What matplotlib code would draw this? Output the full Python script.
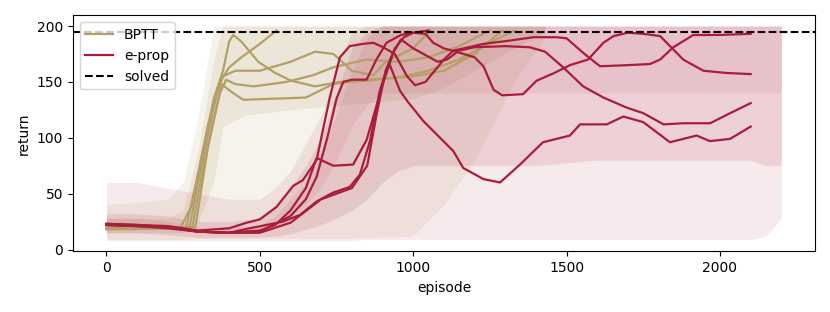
import matplotlib
matplotlib.use("Agg")
import matplotlib.pyplot as plt

bptt_color = '#b59f68'
eprop_color = '#a91d3a'
solved = 195

# faint raw returns, drawn as envelopes (outer = min/max, inner = dense part)
bptt_band_ep = [0, 200, 250, 300, 350, 380, 450, 600, 800, 1000, 1100, 1200, 1330, 1430]
bptt_outer_lo = [9, 9, 9, 10, 10, 10, 10, 10, 10, 12, 40, 80, 150, 190]
bptt_outer_hi = [40, 45, 60, 120, 200, 200, 200, 200, 200, 200, 200, 200, 200, 200]
bptt_inner_lo = [15, 15, 15, 25, 60, 110, 120, 125, 130, 135, 145, 160, 180, 195]
bptt_inner_hi = [28, 28, 35, 90, 170, 200, 200, 200, 200, 200, 200, 200, 200, 200]

eprop_band_ep = [0, 100, 200, 300, 400, 500, 550, 600, 650, 700, 750, 800, 850, 900,
                 950, 1000, 1200, 1400, 1600, 1800, 2000, 2100, 2150, 2200]
eprop_outer_lo = [8, 8, 8, 8, 8, 8, 8, 8, 8, 8, 8, 8, 9, 9,
                  9, 9, 9, 9, 9, 9, 9, 9, 12, 28]
eprop_outer_hi = [60, 60, 55, 50, 45, 45, 55, 70, 95, 120, 160, 195, 200, 200,
                  200, 200, 200, 200, 200, 200, 200, 200, 200, 200]
eprop_inner_lo = [15, 15, 13, 11, 11, 11, 12, 14, 18, 22, 28, 35, 45, 60,
                  70, 75, 75, 75, 80, 80, 80, 80, 75, 75]
eprop_inner_hi = [32, 32, 30, 25, 25, 28, 40, 55, 75, 100, 140, 180, 195, 200,
                  200, 200, 200, 200, 200, 200, 200, 200, 200, 200]
eprop_top_lo = [20, 20, 18, 15, 15, 16, 20, 28, 40, 55, 80, 110, 130, 140,
                140, 140, 140, 140, 140, 140, 140, 140, 140, 140]
eprop_top_hi = [28, 28, 25, 20, 20, 22, 30, 45, 60, 85, 120, 160, 190, 200,
                200, 200, 200, 200, 200, 200, 200, 200, 200, 200]

# smoothed runs (100-episode running mean)
bptt_runs = [
    ([0, 240, 280, 330, 370, 400, 440, 500, 554],
     [20, 19, 40, 110, 150, 163, 172, 184, 196]),
    ([0, 260, 300, 350, 380, 400, 413, 440, 495, 550, 603, 680, 760, 850, 950, 1050, 1150, 1250, 1330],
     [19, 20, 70, 135, 160, 186, 192, 186, 168, 158, 151, 146, 150, 151, 154, 160, 170, 185, 196]),
    ([0, 270, 310, 360, 380, 420, 500, 600, 680, 740, 800, 870, 910, 1000, 1055],
     [18, 19, 75, 140, 155, 160, 160, 168, 177, 175, 160, 156, 168, 180, 196]),
    ([0, 280, 320, 370, 390, 420, 480, 587, 674, 739, 848, 950, 1050, 1150, 1250],
     [19, 20, 80, 140, 152, 148, 146, 150, 156, 163, 170, 168, 172, 182, 196]),
    ([0, 290, 330, 375, 413, 446, 550, 650, 739, 848, 1000, 1100, 1200, 1290],
     [19, 20, 90, 148, 140, 134, 135, 136, 148, 152, 155, 160, 175, 196]),
]

eprop_runs = [
    # early riser, ends near 193
    ([0, 100, 200, 300, 400, 457, 500, 554, 609, 640, 685, 728, 761, 793, 836, 870, 902, 940,
      980, 1006, 1040, 1070, 1100, 1131, 1229, 1316, 1392, 1468, 1500, 1554, 1609, 1700, 1772,
      1805, 1848, 1913, 2000, 2100],
     [23, 22, 21, 17, 19, 24, 27, 38, 57, 62, 80, 136, 172, 182, 184, 185, 181, 175,
      155, 147, 150, 160, 170, 178, 184, 187, 190, 190, 189, 176, 164, 165, 166,
      170, 181, 192, 192, 193]),
    # plateau at 150, solved early
    ([0, 100, 200, 300, 400, 500, 600, 650, 685, 720, 750, 772, 800, 848, 880, 913, 960, 1000, 1050],
     [22, 21, 20, 16, 15, 16, 30, 45, 65, 100, 135, 150, 152, 152, 170, 185, 192, 194, 196]),
    # plateau at 75, ends near 131
    ([0, 100, 200, 300, 400, 500, 550, 600, 650, 685, 739, 804, 848, 902, 935, 960, 1000, 1040,
      1080, 1110, 1150, 1200, 1300, 1380, 1430, 1489, 1554, 1620, 1696, 1750, 1816, 1881, 1968,
      2033, 2100],
     [23, 22, 20, 16, 15, 17, 22, 35, 55, 82, 75, 76, 98, 149, 176, 188, 180, 174,
      168, 170, 178, 181, 182, 181, 177, 163, 146, 136, 127, 122, 112, 113, 113,
      122, 131]),
    # slow riser, ends near 157
    ([0, 100, 200, 300, 400, 500, 600, 700, 800, 850, 880, 910, 940, 970, 1000, 1040, 1065, 1100,
      1152, 1200, 1229, 1262, 1290, 1358, 1402, 1460, 1511, 1570, 1620, 1653, 1700, 1750, 1805,
      1880, 1946, 2020, 2100],
     [22, 21, 20, 16, 15, 15, 24, 45, 55, 75, 120, 160, 180, 190, 194, 193, 185, 180,
      176, 172, 164, 143, 138, 139, 151, 158, 165, 170, 185, 191, 194, 193, 191,
      170, 160, 158, 157]),
    # slowest, collapses to 60, ends near 110
    ([0, 100, 200, 300, 400, 467, 576, 631, 685, 739, 793, 826, 859, 891, 913, 924, 957, 983,
      1033, 1131, 1163, 1229, 1283, 1348, 1423, 1511, 1544, 1631, 1685, 1750, 1837, 1924, 1967,
      2033, 2100],
     [22, 21, 19, 16, 15, 19, 25, 31, 43, 51, 56, 67, 97, 142, 161, 165, 142, 132,
      115, 88, 73, 63, 60, 76, 96, 102, 112, 112, 119, 114, 96, 102, 97,
      99, 110]),
]

fig, ax = plt.subplots(figsize=(8.3, 3.12), dpi=100)
fig.subplots_adjust(left=0.0876, right=0.982, top=0.951, bottom=0.1945)

ax.fill_between(bptt_band_ep, bptt_outer_lo, bptt_outer_hi, color=bptt_color, alpha=0.12, lw=0)
ax.fill_between(bptt_band_ep, bptt_inner_lo, bptt_inner_hi, color=bptt_color, alpha=0.15, lw=0)
for i, (ep, ret) in enumerate(bptt_runs):
    ax.plot(ep, ret, color=bptt_color, lw=1.6, label='BPTT' if i == 0 else None)

ax.fill_between(eprop_band_ep, eprop_outer_lo, eprop_outer_hi, color=eprop_color, alpha=0.09, lw=0)
ax.fill_between(eprop_band_ep, eprop_inner_lo, eprop_inner_hi, color=eprop_color, alpha=0.12, lw=0)
ax.fill_between(eprop_band_ep, eprop_top_lo, eprop_top_hi, color=eprop_color, alpha=0.08, lw=0)
for i, (ep, ret) in enumerate(eprop_runs):
    ax.plot(ep, ret, color=eprop_color, lw=1.6, label='e-prop' if i == 0 else None)

ax.axhline(solved, color='black', ls='--', lw=1.5, label='solved')

ax.set_xlim(-110, 2310)
ax.set_ylim(-1.6, 209.6)
ax.set_xticks([0, 500, 1000, 1500, 2000])
ax.set_yticks([0, 50, 100, 150, 200])
ax.set_xlabel('episode')
ax.set_ylabel('return')
ax.legend(loc='upper left')

fig.savefig('out.png', dpi=100)
